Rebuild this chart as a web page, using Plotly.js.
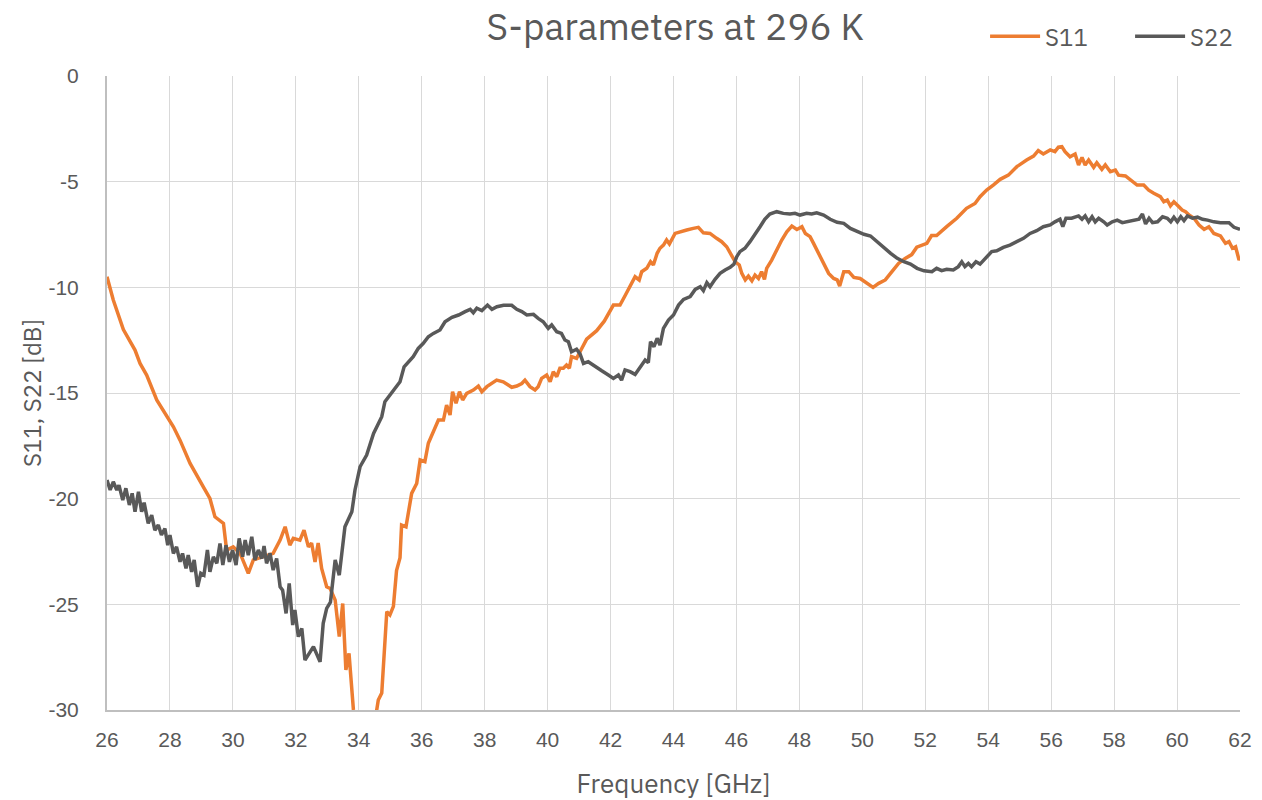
<!DOCTYPE html>
<html>
<head>
<meta charset="utf-8">
<script src="https://cdn.plot.ly/plotly-3.0.1.min.js"></script>
<style>html,body{margin:0;padding:0;background:#fff;}#chart{width:1262px;height:800px;}</style>
</head>
<body>
<div id="chart"></div>
<script>
const chartTitle = "S-parameters at 296 K";
const xTitle = "Frequency [GHz]";
const yTitle = "S11, S22 [dB]";
const xTickVals = [26,28,30,32,34,36,38,40,42,44,46,48,50,52,54,56,58,60,62];
const yTickVals = [0,-5,-10,-15,-20,-25,-30];

const s11Freq = [26.0,26.2,26.52,26.73,26.89,27.05,27.26,27.58,27.9,28.11,28.32,28.64,29.06,29.27,29.43,29.7,29.8,30.01,30.23,30.49,30.65,30.97,31.28,31.5,31.66,31.81,31.92,32.13,32.26,32.4,32.5,32.61,32.71,32.82,32.98,33.09,33.25,33.38,33.49,33.59,33.69,33.83,34.0,34.2,34.4,34.57,34.62,34.73,34.89,34.99,35.1,35.2,35.31,35.36,35.5,35.68,35.84,35.95,36.1,36.21,36.37,36.53,36.69,36.79,36.9,36.98,37.09,37.2,37.3,37.43,37.64,37.8,37.91,38.07,38.38,38.59,38.86,39.02,39.18,39.28,39.44,39.6,39.7,39.81,39.97,40.08,40.18,40.29,40.39,40.5,40.6,40.69,40.76,40.92,41.03,41.24,41.56,41.8,42.09,42.3,42.46,42.62,42.78,42.91,42.99,43.15,43.27,43.36,43.48,43.57,43.68,43.78,43.87,44.05,44.21,44.42,44.63,44.79,44.95,45.16,45.37,45.53,45.69,45.85,45.96,46.09,46.17,46.28,46.38,46.49,46.59,46.7,46.8,46.89,46.96,47.12,47.28,47.44,47.6,47.76,47.92,48.08,48.19,48.34,48.45,48.61,48.77,48.93,49.09,49.2,49.28,49.41,49.57,49.73,49.93,50.15,50.34,50.52,50.73,50.94,51.15,51.36,51.57,51.73,51.9,52.05,52.2,52.36,52.68,53.0,53.31,53.58,53.74,53.95,54.16,54.38,54.64,54.91,55.22,55.44,55.59,55.75,55.97,56.12,56.23,56.34,56.44,56.6,56.76,56.87,56.98,57.08,57.19,57.35,57.45,57.61,57.72,57.88,58.04,58.14,58.36,58.52,58.73,58.94,59.1,59.26,59.47,59.58,59.69,59.79,59.9,60.06,60.16,60.27,60.38,60.54,60.7,60.86,61.01,61.17,61.38,61.54,61.65,61.76,61.86,61.97,62.0];
const s11dB = [-9.5,-10.6,-12.0,-12.57,-12.97,-13.6,-14.15,-15.33,-16.12,-16.6,-17.23,-18.33,-19.44,-19.99,-20.86,-21.17,-22.43,-22.28,-22.59,-23.53,-22.9,-22.75,-22.59,-21.96,-21.33,-22.2,-21.88,-21.96,-21.49,-22.28,-22.1,-22.99,-22.1,-23.3,-24.17,-24.25,-24.8,-26.53,-24.96,-28.1,-27.32,-30.0,-32.5,-34.0,-32.5,-30.0,-29.53,-29.2,-25.35,-25.5,-25.1,-23.4,-22.8,-21.25,-21.33,-19.75,-19.28,-18.17,-18.25,-17.38,-16.83,-16.28,-16.28,-15.57,-16.04,-14.94,-15.49,-14.94,-15.33,-15.02,-14.86,-14.67,-14.94,-14.7,-14.39,-14.47,-14.73,-14.67,-14.55,-14.39,-14.7,-14.86,-14.7,-14.31,-14.15,-14.47,-13.99,-14.23,-13.83,-13.83,-13.68,-13.83,-13.28,-13.36,-13.05,-12.45,-12.05,-11.6,-10.84,-10.84,-10.4,-9.95,-9.5,-9.65,-9.26,-9.1,-8.79,-8.94,-8.39,-8.15,-8.0,-7.76,-7.95,-7.45,-7.37,-7.29,-7.21,-7.16,-7.42,-7.45,-7.68,-7.84,-8.08,-8.47,-8.79,-8.94,-9.34,-9.65,-9.47,-9.69,-9.42,-9.58,-9.26,-9.62,-9.1,-8.71,-8.23,-7.76,-7.37,-7.1,-7.26,-7.13,-7.45,-7.6,-7.92,-8.39,-8.87,-9.34,-9.58,-9.65,-9.94,-9.26,-9.26,-9.53,-9.58,-9.81,-10.0,-9.81,-9.65,-9.26,-8.87,-8.63,-8.45,-8.1,-8.0,-7.92,-7.55,-7.55,-7.13,-6.73,-6.26,-6.03,-5.71,-5.4,-5.16,-4.89,-4.69,-4.29,-3.98,-3.79,-3.53,-3.69,-3.5,-3.58,-3.37,-3.34,-3.58,-3.82,-3.69,-4.21,-3.85,-4.21,-3.98,-4.32,-4.1,-4.42,-4.21,-4.53,-4.45,-4.69,-4.73,-4.92,-5.16,-5.16,-5.4,-5.55,-5.71,-5.95,-5.87,-6.15,-5.95,-6.19,-6.34,-6.42,-6.58,-6.73,-7.05,-7.26,-7.13,-7.45,-7.57,-7.92,-7.84,-8.15,-8.08,-8.71,-8.6];

const s22Freq = [26.0,26.1,26.2,26.31,26.38,26.5,26.6,26.71,26.8,26.89,27.0,27.1,27.18,27.31,27.42,27.52,27.63,27.73,27.84,27.93,28.0,28.11,28.21,28.32,28.4,28.51,28.58,28.69,28.77,28.88,28.98,29.08,29.19,29.27,29.38,29.49,29.59,29.68,29.78,29.89,29.99,30.1,30.2,30.31,30.39,30.49,30.6,30.7,30.81,30.92,30.99,31.07,31.18,31.28,31.39,31.5,31.58,31.69,31.79,31.9,31.97,32.08,32.19,32.29,32.56,32.77,32.87,32.98,33.1,33.25,33.38,33.56,33.78,33.88,34.04,34.25,34.47,34.62,34.73,34.83,34.99,35.15,35.31,35.44,35.63,35.73,35.89,36.05,36.21,36.37,36.58,36.74,36.96,37.17,37.38,37.54,37.64,37.75,37.91,38.09,38.23,38.39,38.6,38.86,39.02,39.18,39.34,39.55,39.7,39.86,40.02,40.13,40.29,40.44,40.55,40.66,40.76,40.92,41.03,41.14,41.29,41.51,41.72,41.93,42.09,42.25,42.35,42.46,42.62,42.78,42.94,43.1,43.2,43.27,43.38,43.48,43.57,43.68,43.84,44.0,44.16,44.32,44.53,44.69,44.85,44.95,45.06,45.16,45.32,45.48,45.64,45.8,45.92,46.01,46.11,46.27,46.43,46.59,46.75,46.9,47.06,47.28,47.49,47.7,47.86,48.02,48.23,48.39,48.55,48.77,48.98,49.2,49.41,49.62,49.84,50.05,50.26,50.47,50.68,50.9,51.11,51.32,51.53,51.74,51.96,52.21,52.36,52.52,52.68,52.89,53.05,53.16,53.26,53.37,53.47,53.61,53.74,53.95,54.11,54.27,54.48,54.69,54.91,55.12,55.33,55.54,55.75,55.97,56.12,56.28,56.37,56.47,56.65,56.87,56.98,57.08,57.19,57.3,57.4,57.51,57.67,57.78,57.94,58.1,58.26,58.42,58.63,58.79,58.9,59.0,59.11,59.22,59.38,59.54,59.69,59.8,59.9,60.01,60.12,60.22,60.33,60.49,60.65,60.81,60.97,61.17,61.38,61.65,61.81,62.0];
const s22dB = [-19.12,-19.59,-19.2,-19.59,-19.36,-20.07,-19.51,-20.3,-19.75,-20.62,-19.67,-20.62,-20.19,-21.17,-20.78,-21.49,-21.25,-21.72,-21.41,-22.2,-21.72,-22.59,-22.28,-22.99,-22.59,-23.3,-22.67,-23.46,-22.9,-24.17,-23.53,-23.62,-22.43,-23.46,-22.75,-23.06,-22.12,-23.14,-22.2,-22.99,-22.43,-23.14,-21.88,-22.75,-21.96,-22.67,-21.8,-22.9,-22.43,-22.83,-22.24,-23.06,-22.59,-23.38,-22.83,-24.17,-24.33,-25.43,-24.01,-25.98,-25.27,-26.53,-26.14,-27.64,-27.0,-27.72,-25.9,-25.19,-24.9,-22.9,-23.62,-21.33,-20.62,-19.59,-18.49,-17.94,-16.91,-16.44,-16.12,-15.41,-15.1,-14.78,-14.47,-13.76,-13.44,-13.28,-12.89,-12.65,-12.34,-12.18,-12.02,-11.63,-11.42,-11.31,-11.15,-11.04,-11.2,-10.99,-11.1,-10.84,-11.04,-10.92,-10.85,-10.85,-11.04,-11.15,-11.31,-11.28,-11.47,-11.63,-11.94,-11.78,-12.1,-12.18,-12.49,-12.57,-13.05,-12.93,-13.15,-13.6,-13.52,-13.76,-13.95,-14.15,-14.31,-14.15,-14.39,-13.91,-13.99,-14.12,-13.76,-13.44,-13.56,-12.57,-12.81,-12.41,-12.73,-11.94,-11.55,-11.31,-10.84,-10.57,-10.44,-10.1,-9.97,-10.16,-9.78,-9.97,-9.62,-9.34,-9.18,-9.05,-8.9,-8.55,-8.31,-8.15,-7.84,-7.52,-7.13,-6.78,-6.53,-6.42,-6.5,-6.53,-6.5,-6.58,-6.5,-6.53,-6.47,-6.58,-6.78,-6.92,-6.97,-7.21,-7.37,-7.49,-7.57,-7.84,-8.15,-8.39,-8.63,-8.79,-8.9,-9.1,-9.22,-9.26,-9.1,-9.21,-9.15,-9.18,-9.02,-8.79,-9.02,-8.87,-9.02,-8.79,-8.9,-8.55,-8.31,-8.27,-8.11,-8.0,-7.84,-7.68,-7.45,-7.32,-7.13,-7.05,-6.9,-6.78,-7.13,-6.73,-6.73,-6.62,-6.78,-6.62,-6.9,-6.66,-6.9,-6.73,-6.9,-7.05,-6.9,-6.82,-6.94,-6.9,-6.82,-6.78,-6.53,-7.0,-6.73,-6.94,-6.9,-6.66,-6.73,-6.9,-6.68,-6.9,-6.66,-6.84,-6.62,-6.73,-6.68,-6.78,-6.82,-6.9,-6.94,-6.94,-7.16,-7.26];

const seriesNames = ["S11","S22"];
const seriesColors = ["#ED7D31","#595959"];

const titleFont = "IBM Plex Sans, Noto Sans, sans-serif";
const tickFont = "Liberation Sans, Arial, sans-serif";
const textColor = "#595959";

const traces = [
  {x: s11Freq, y: s11dB, name: seriesNames[0], type: "scatter", mode: "lines",
   line: {color: seriesColors[0], width: 3.5}},
  {x: s22Freq, y: s22dB, name: seriesNames[1], type: "scatter", mode: "lines",
   line: {color: seriesColors[1], width: 3.5}}
];

const layout = {
  width: 1262, height: 800,
  margin: {l: 107, r: 22, t: 76, b: 90, autoexpand: false},
  paper_bgcolor: "#fff", plot_bgcolor: "#fff",
  title: {text: chartTitle, font: {family: titleFont, size: 37, color: textColor},
          x: 0.535, xanchor: "center", y: 0.966, yanchor: "middle"},
  showlegend: true,
  legend: {orientation: "h", x: 0.775, xanchor: "left", y: 1.062, yanchor: "middle",
           font: {family: titleFont, size: 24, color: textColor}, bgcolor: "rgba(0,0,0,0)",
           itemwidth: 50, entrywidth: 80, entrywidthmode: "pixels"},
  xaxis: {range: [26, 62], tickvals: xTickVals, ticktext: xTickVals.map(String),
          showgrid: true, gridcolor: "#d9d9d9", gridwidth: 1,
          showline: true, linecolor: "#bfbfbf", linewidth: 2, zeroline: false,
          ticks: "", ticklabelstandoff: 10, automargin: false,
          tickfont: {family: tickFont, size: 21, color: textColor},
          title: {text: xTitle, font: {family: titleFont, size: 26, color: textColor}, standoff: 26}},
  yaxis: {range: [-30, 0], tickvals: yTickVals, ticktext: yTickVals.map(String),
          showgrid: true, gridcolor: "#d9d9d9", gridwidth: 1,
          showline: true, linecolor: "#bfbfbf", linewidth: 2, zeroline: false,
          ticks: "", ticklabelstandoff: 22, automargin: false,
          tickfont: {family: tickFont, size: 21, color: textColor},
          title: {text: yTitle, font: {family: titleFont, size: 24, color: textColor}, standoff: 0}}
};

Plotly.newPlot("chart", traces, layout, {displayModeBar: false, staticPlot: true});
</script>
</body>
</html>
